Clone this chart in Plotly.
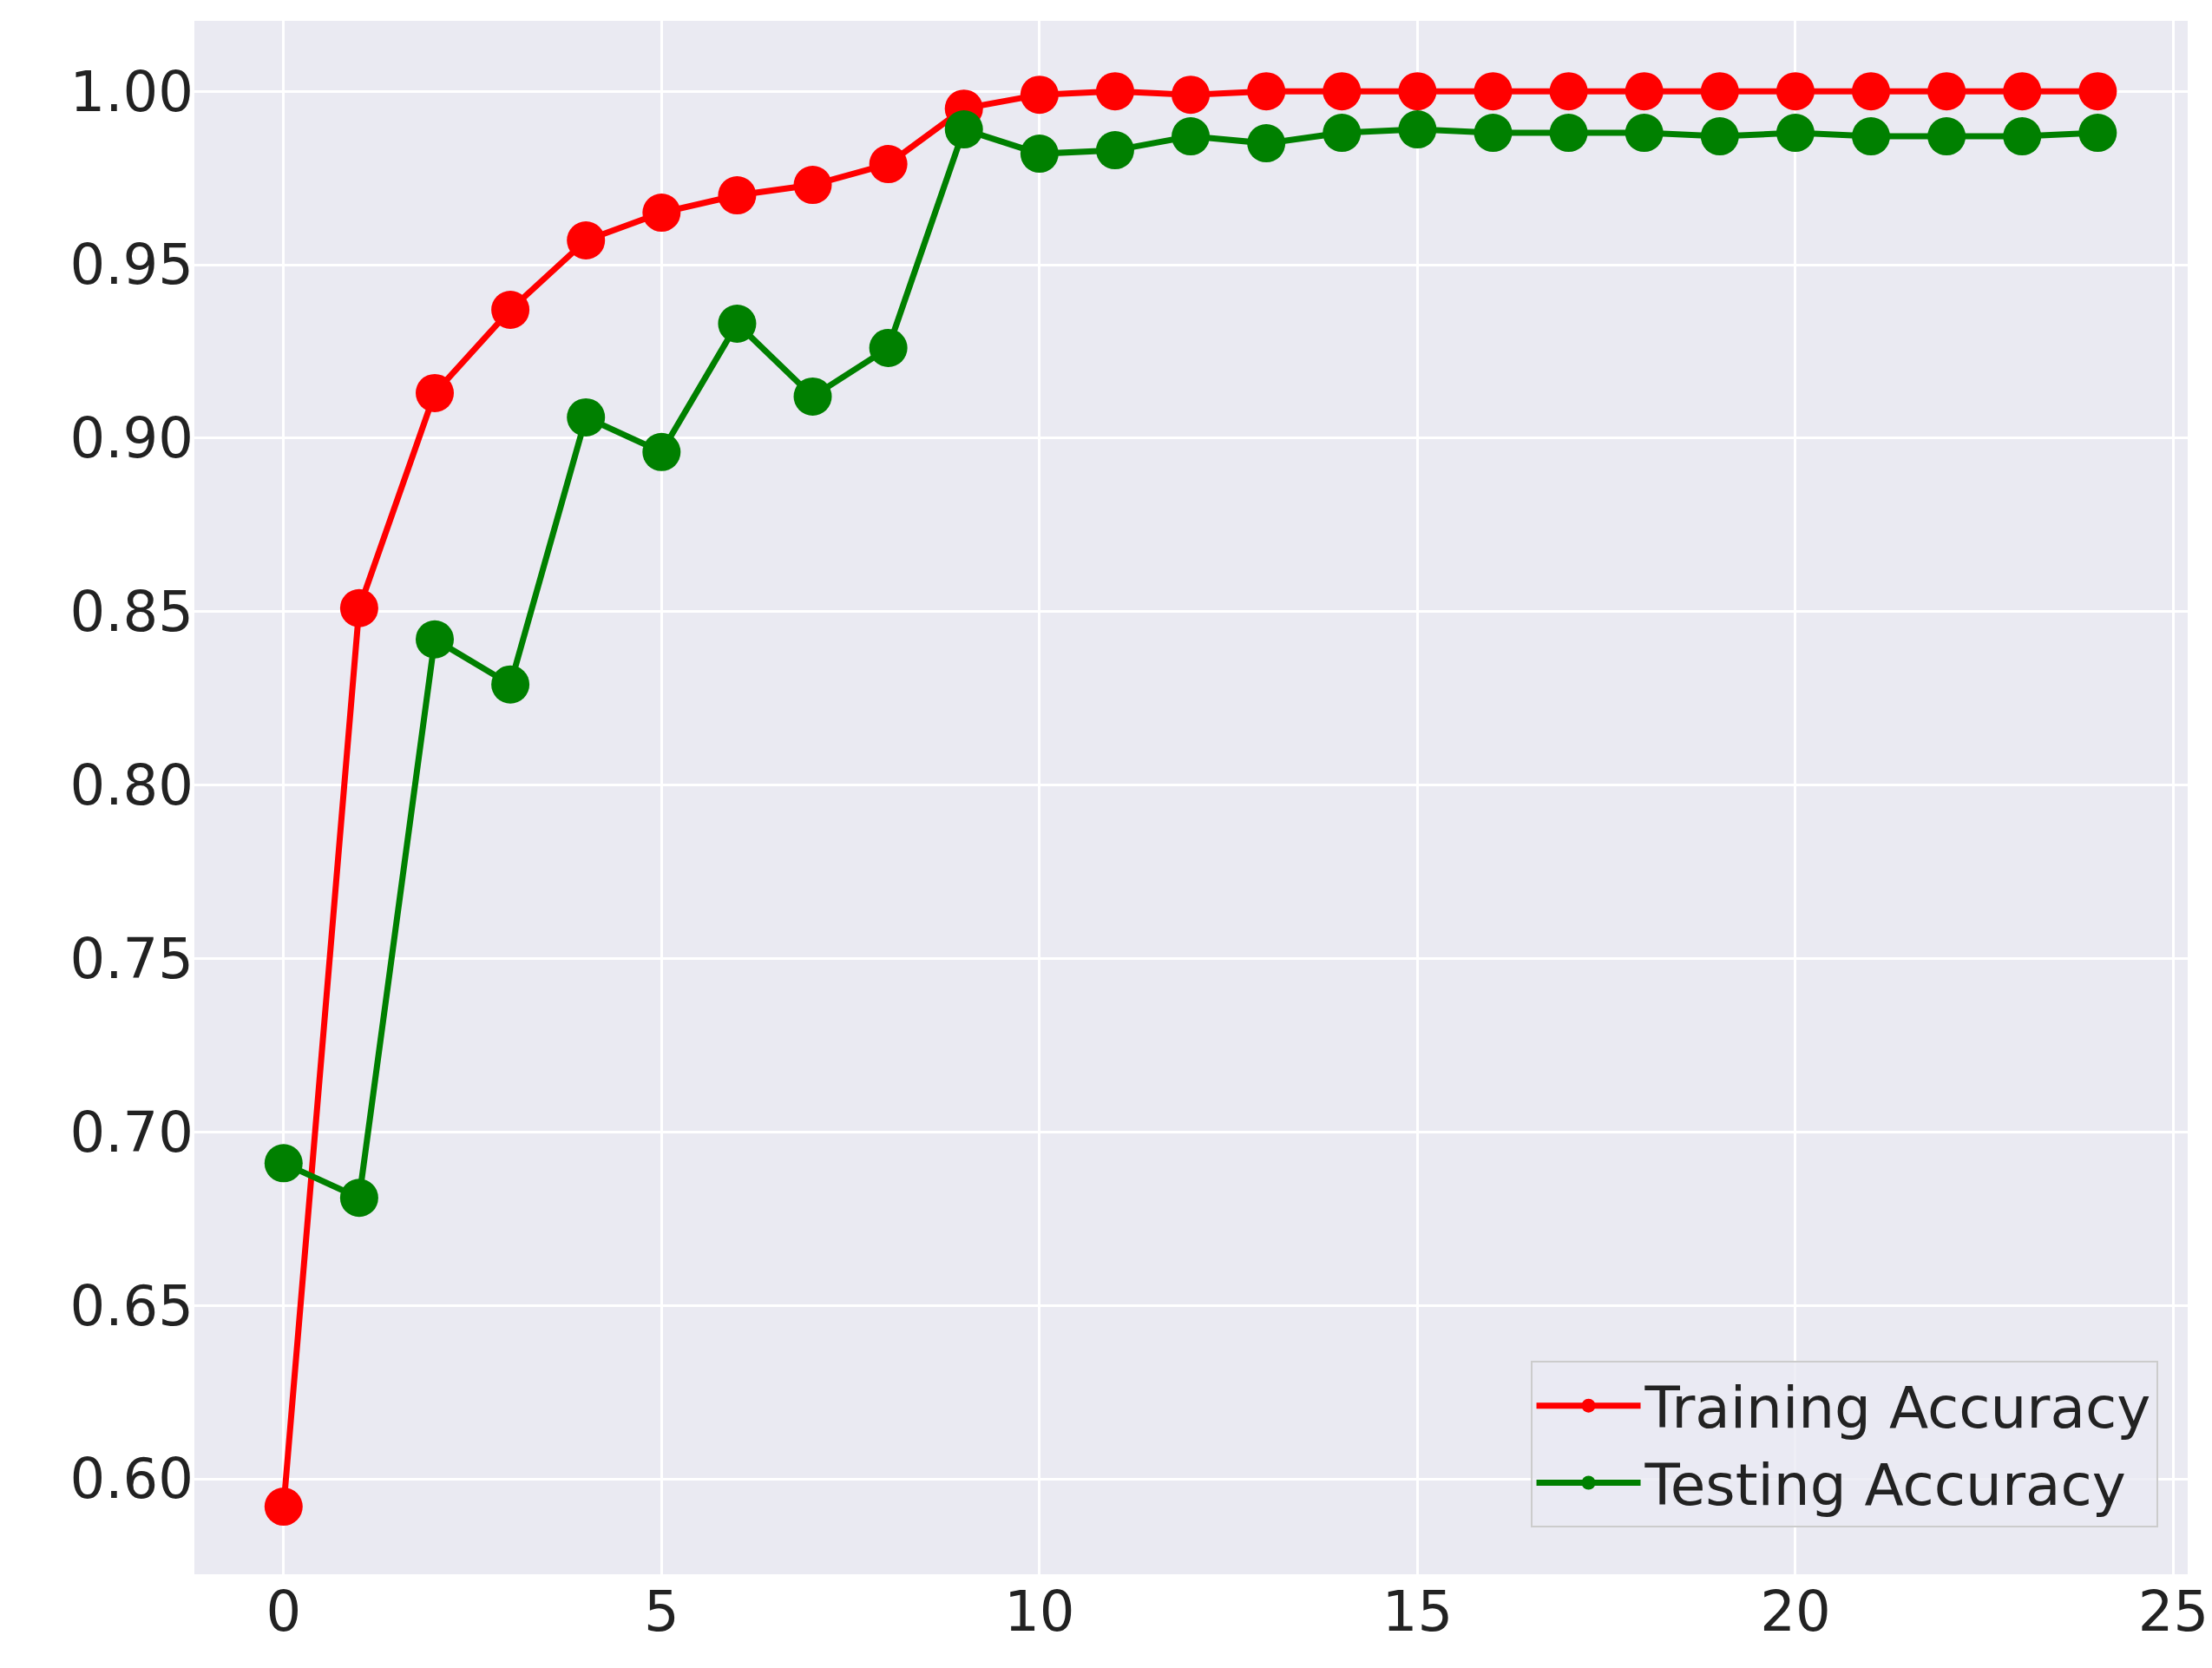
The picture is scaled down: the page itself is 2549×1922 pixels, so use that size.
import plotly.graph_objects as go

epochs = list(range(25))
train_acc = [0.592, 0.851, 0.913, 0.937, 0.957, 0.965, 0.970, 0.973, 0.979, 0.995, 0.999, 1.000, 0.999,
             1.000, 1.000, 1.000, 1.000, 1.000, 1.000, 1.000, 1.000, 1.000, 1.000, 1.000, 1.000]
test_acc = [0.691, 0.681, 0.842, 0.829, 0.906, 0.896, 0.933, 0.912, 0.926, 0.989, 0.982, 0.983, 0.987,
            0.985, 0.988, 0.989, 0.988, 0.988, 0.988, 0.987, 0.988, 0.987, 0.987, 0.987, 0.988]
x_ticks = [0, 5, 10, 15, 20, 25]
y_ticks = [0.60, 0.65, 0.70, 0.75, 0.80, 0.85, 0.90, 0.95, 1.00]

fig = go.Figure()
fig.add_trace(go.Scatter(x=epochs, y=train_acc, mode="lines+markers", name="Training Accuracy",
                         line=dict(color="red", width=7), marker=dict(color="red", size=44)))
fig.add_trace(go.Scatter(x=epochs, y=test_acc, mode="lines+markers", name="Testing Accuracy",
                         line=dict(color="green", width=7), marker=dict(color="green", size=44)))
fig.update_layout(
    width=2549, height=1922,
    paper_bgcolor="white", plot_bgcolor="#EAEAF2",
    margin=dict(l=216, r=33, t=16, b=116),
    font=dict(family="DejaVu Sans", size=64, color="#222"),
    xaxis=dict(range=[-1.18, 25.19], tickvals=x_ticks, gridcolor="white", gridwidth=3,
               zeroline=False, showline=False, ticks=""),
    yaxis=dict(range=[0.5725, 1.0203], tickvals=y_ticks, tickformat=".2f", gridcolor="white",
               gridwidth=3, zeroline=False, showline=False, ticks=""),
    legend=dict(x=0.985, y=0.03, xanchor="right", yanchor="bottom", bgcolor="rgba(234,234,242,0.8)",
                bordercolor="#CCCCCC", borderwidth=2, font=dict(size=66), itemwidth=120),
    showlegend=True,
)
fig.write_html("out.html")
